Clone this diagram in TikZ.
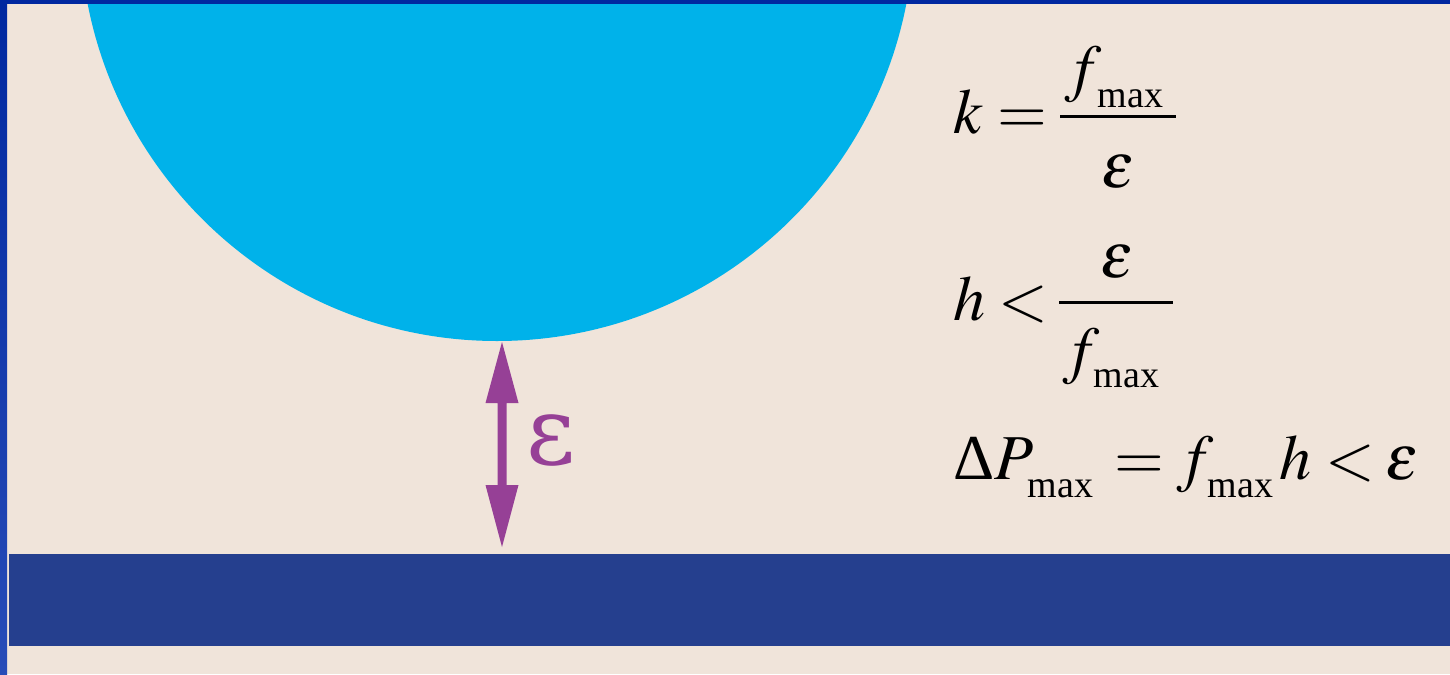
\documentclass[tikz,border=0pt]{standalone}
\usepackage{mathptmx}
\usepackage{fontspec}
\setmainfont{Liberation Serif}
\newfontfamily\labelfont{DejaVu Serif}
\usetikzlibrary{calc}
\definecolor{bg}{RGB}{240,228,218}
\definecolor{topblue}{RGB}{0,40,160}
\definecolor{leftbot}{RGB}{40,76,184}
\definecolor{ball}{RGB}{0,178,234}
\definecolor{floorblue}{RGB}{37,63,142}
\definecolor{purp}{RGB}{150,64,150}
\begin{document}
\begin{tikzpicture}[x=0.1mm,y=-0.1mm,
  eq/.style={inner sep=0pt, font=\fontsize{6.4mm}{7.6mm}\selectfont},
  sub/.style={inner sep=0pt, font=\fontsize{3.8mm}{4.5mm}\selectfont},
  fracbar/.style={line width=0.3mm}]
\useasboundingbox (0,0) rectangle (1450,674);
\fill[bg] (0,0) rectangle (1450,674);
\begin{scope}
\clip (0,0) rectangle (1450,674);
\fill[ball] (497,-76) circle [radius=41.7mm];
\end{scope}
\fill[topblue] (0,0) rectangle (1450,4);
\shade[top color=topblue, bottom color=leftbot] (0,0) rectangle (7,674);
\fill[floorblue] (9,554) rectangle (1450,646);
% gap arrow
\coordinate (gapTop) at (502,342);
\coordinate (gapBot) at (502,547);
\fill[purp] (gapTop) -- ($(gapTop)+(16.5,61)$) -- ($(gapTop)+(4.5,61)$)
  -- ($(gapBot)+(4.5,-62)$) -- ($(gapBot)+(16.5,-62)$) -- (gapBot)
  -- ($(gapBot)+(-16.5,-62)$) -- ($(gapBot)+(-4.5,-62)$)
  -- ($(gapTop)+(-4.5,61)$) -- ($(gapTop)+(-16.5,61)$) -- cycle;
\node[text=purp, inner sep=0pt, anchor=base, font=\fontsize{9.5mm}{11mm}\labelfont] (epslabel) at (551,464) {ε};
% equation 1
\node[eq, anchor=base west] (k1) at (953,133) {$k$};
\node[eq, anchor=base] (eq1) at (1022,133) {$=$};
\coordinate (b1l) at (1060,116);
\coordinate (b1r) at (1176,116);
\draw[fracbar] (b1l) -- (b1r);
\node[eq, anchor=base west] (f1) at (1064,89) {$f$};
\node[sub, anchor=base west] (m1) at (1097,107) {max};
\node[eq, anchor=base] (e1) at (1118,187) {$\varepsilon$};
% equation 2
\node[eq, anchor=base west] (h2) at (953,320) {$h$};
\node[eq, anchor=base] (lt2) at (1023,320) {$<$};
\coordinate (b2l) at (1059,302);
\coordinate (b2r) at (1173,302);
\draw[fracbar] (b2l) -- (b2r);
\node[eq, anchor=base] (e2) at (1117,277) {$\varepsilon$};
\node[eq, anchor=base west] (f2) at (1062,371) {$f$};
\node[sub, anchor=base west] (m2) at (1093,387) {max};
% equation 3
\node[eq, anchor=base west] (dp3) at (953,479) {Δ$P$};
\node[sub, anchor=base west] (m3a) at (1027,497) {max};
\node[eq, anchor=base] (eq3) at (1139,479) {$=$};
\node[eq, anchor=base west] (f3) at (1176,479) {$f$};
\node[sub, anchor=base west] (m3b) at (1207,497) {max};
\node[eq, anchor=base west] (h3) at (1279,479) {$h$};
\node[eq, anchor=base] (lt3) at (1350,479) {$<$};
\node[eq, anchor=base west] (e3) at (1385,479) {$\varepsilon$};
\end{tikzpicture}
\end{document}
